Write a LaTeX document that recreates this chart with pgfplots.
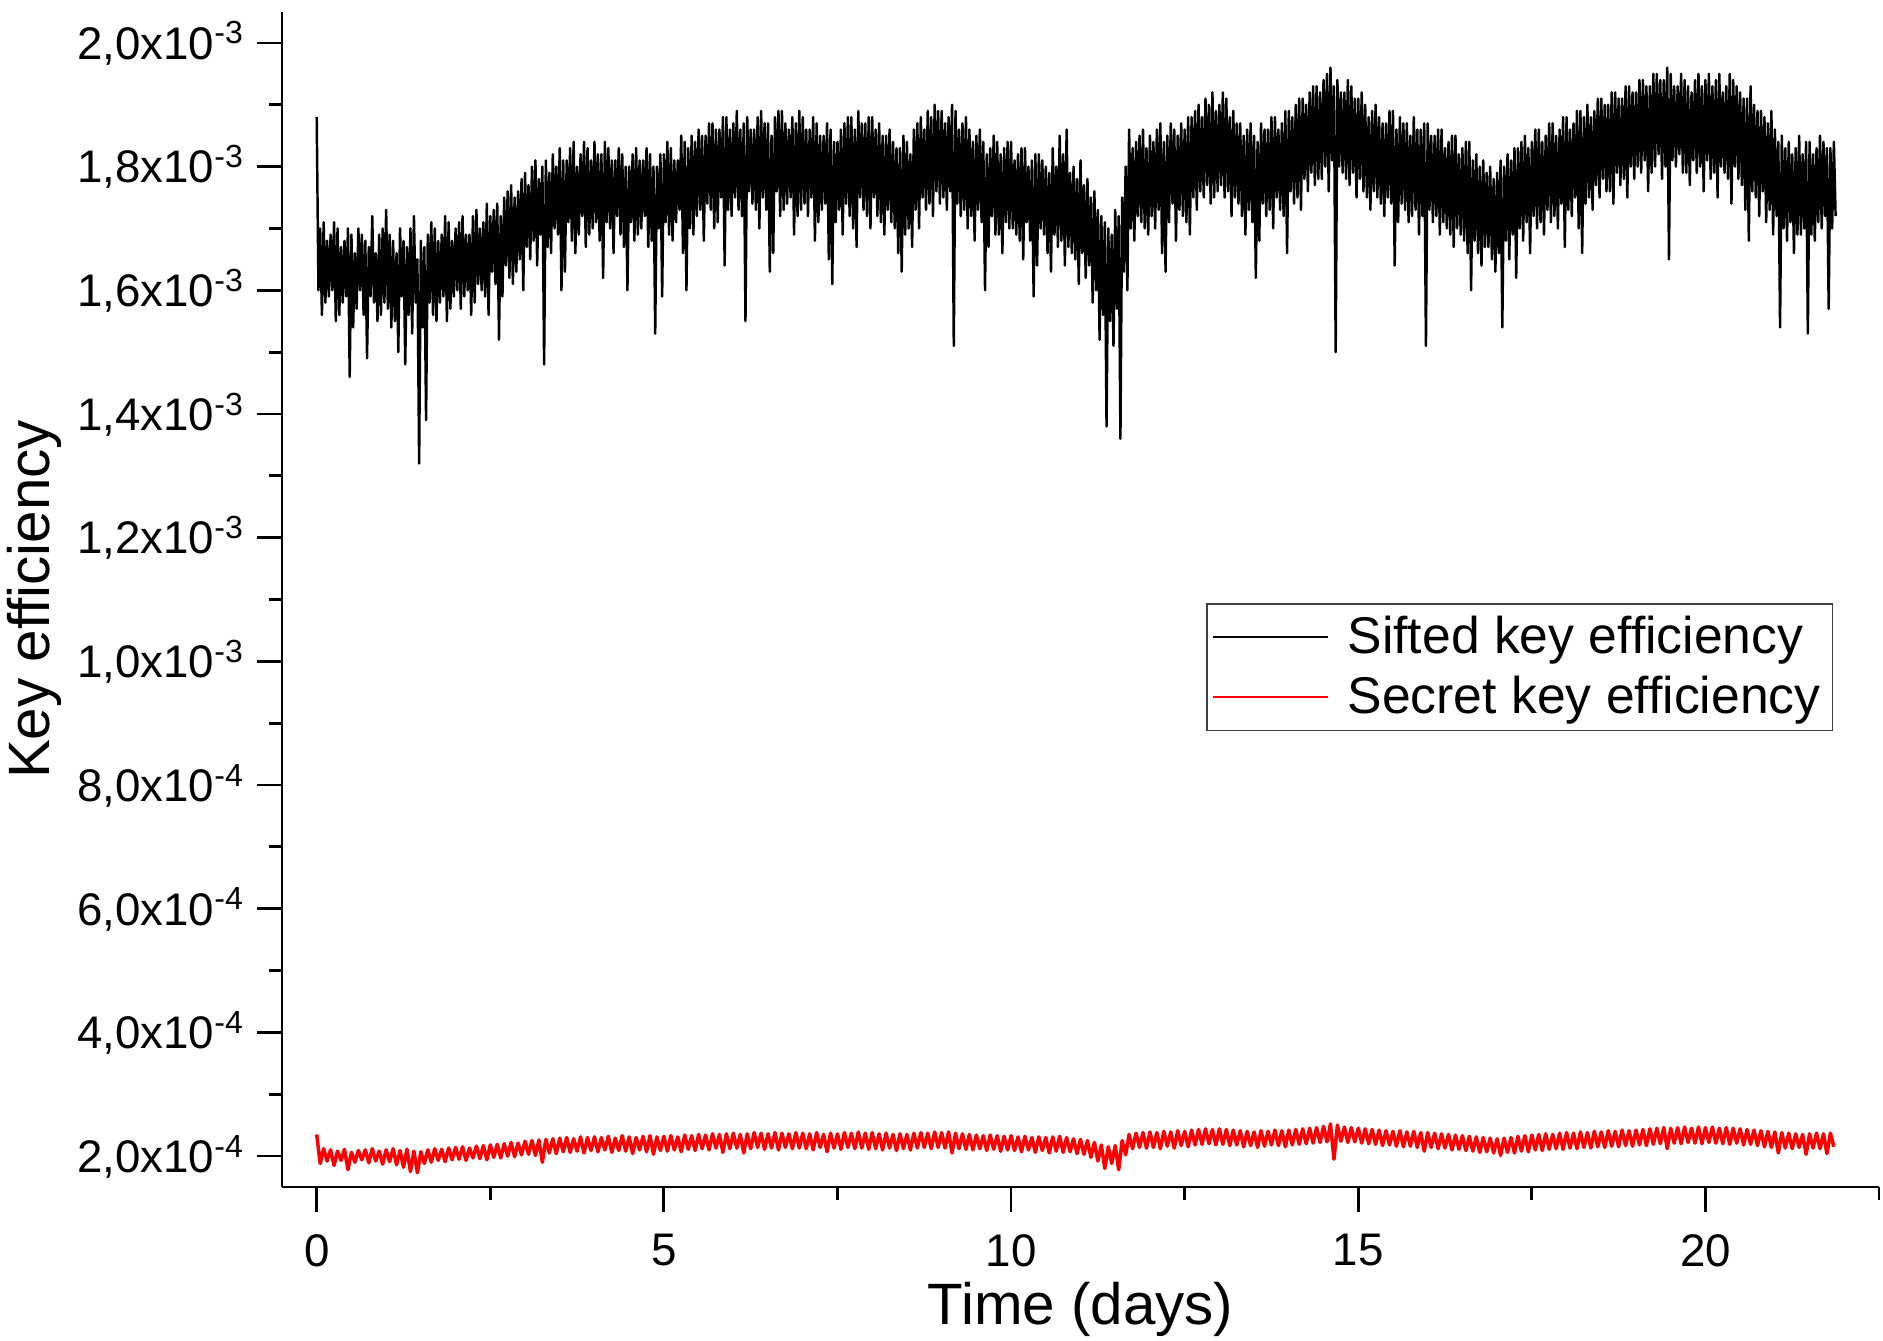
\documentclass[border=0pt]{standalone}
\usepackage{fontspec}
\setmainfont{Liberation Sans}
\usepackage{pgfplots}
\pgfplotsset{compat=1.18}

\newcommand{\sci}[2]{#1x10\textsuperscript{#2}}

\begin{document}
\begin{tikzpicture}
\useasboundingbox (-28.2mm,-15.3mm) rectangle (160.1mm,118.7mm);
\begin{axis}[
    at={(0,0)}, anchor=south west,
    width=159.7mm, height=117.5mm, scale only axis,
    xmin=-0.5, xmax=22.5, ymin=1.5, ymax=20.5,
    axis lines*=left,
    axis line style={line width=0.8pt},
    every tick/.style={line width=0.8pt, black},
    tick align=outside,
    major tick length=2.5mm, minor tick length=1.25mm,
    xtick={0,5,10,15,20}, xticklabels={0,5,10,15,20},
    minor xtick={2.5,7.5,12.5,17.5,22.5},
    ytick={2,4,...,20},
    yticklabels={\sci{2,0}{-4},\sci{4,0}{-4},\sci{6,0}{-4},\sci{8,0}{-4},\sci{1,0}{-3},
                 \sci{1,2}{-3},\sci{1,4}{-3},\sci{1,6}{-3},\sci{1,8}{-3},\sci{2,0}{-3}},
    minor ytick={3,5,...,19},
    ticklabel style={font=\fontsize{13}{15}\selectfont},
    xticklabel style={yshift=-1mm},
    yticklabel style={anchor=base east, yshift=-4.65pt},
    xlabel={Time (days)}, ylabel={Key efficiency},
    label style={font=\fontsize{16.6}{19}\selectfont},
    xlabel style={at={(axis description cs:0.5,-0.104)}, anchor=center},
    ylabel style={at={(axis description cs:-0.1553,0.5)}, anchor=center},
    legend style={at={(0.5786,0.497)}, anchor=north west, draw=black!75,
        line width=0.5pt, fill=white, font=\fontsize{14.7}{17.6}\selectfont,
        inner xsep=0.5mm, inner ysep=0.5mm, row sep=0.3mm, column sep=1.2mm,
        cells={anchor=west}},
    legend image code/.code={\draw[#1, line width=0.5pt] (0mm,0mm) -- (11.5mm,0mm);},
]
% sifted key efficiency, in units of 1e-4
\addplot[black, line width=0.7pt, line join=round] table[row sep=\\] {
t v\\
0.000 18.8\\ 0.025 16.0\\ 0.050 17.0\\ 0.075 15.6\\ 0.100 17.1\\ 0.125 15.8\\ 0.150 16.8\\ 0.175 15.9\\ 0.200 16.9\\ 0.225 16.0\\ 0.250 17.1\\ 0.275 15.5\\ 0.300 17.0\\ 0.325 15.6\\ 0.350 16.7\\ 0.375 15.8\\ 0.400 16.8\\ 0.425 15.9\\ 0.450 17.0\\ 0.475 14.6\\
0.500 16.9\\ 0.525 15.4\\ 0.550 16.6\\ 0.575 15.7\\ 0.600 17.0\\ 0.625 16.0\\ 0.650 16.9\\ 0.675 15.6\\ 0.700 16.8\\ 0.725 14.9\\ 0.750 16.7\\ 0.775 15.9\\ 0.800 17.2\\ 0.825 15.8\\ 0.850 16.6\\ 0.875 15.5\\ 0.900 16.9\\ 0.925 15.6\\ 0.950 17.0\\ 0.975 15.8\\
1.000 17.3\\ 1.025 15.7\\ 1.050 16.9\\ 1.075 15.4\\ 1.100 16.8\\ 1.125 15.5\\ 1.150 16.6\\ 1.175 15.0\\ 1.200 17.0\\ 1.225 15.9\\ 1.250 16.8\\ 1.275 14.8\\ 1.300 16.7\\ 1.325 15.6\\ 1.350 17.0\\ 1.375 15.3\\ 1.400 17.2\\ 1.425 15.8\\ 1.450 16.5\\ 1.475 13.2\\
1.500 16.8\\ 1.525 15.4\\ 1.550 16.7\\ 1.575 13.9\\ 1.600 16.9\\ 1.625 15.8\\ 1.650 17.1\\ 1.675 15.6\\ 1.700 17.0\\ 1.725 15.5\\ 1.750 16.8\\ 1.775 15.8\\ 1.800 16.9\\ 1.825 15.9\\ 1.850 17.2\\ 1.875 15.5\\ 1.900 17.1\\ 1.925 15.7\\ 1.950 16.8\\ 1.975 15.9\\
2.000 17.0\\ 2.025 16.0\\ 2.050 17.1\\ 2.075 15.7\\ 2.100 17.2\\ 2.125 15.9\\ 2.150 16.9\\ 2.175 16.0\\ 2.200 16.9\\ 2.225 15.6\\ 2.250 17.2\\ 2.275 15.8\\ 2.300 17.3\\ 2.325 16.1\\ 2.350 17.0\\ 2.375 16.0\\ 2.400 17.1\\ 2.425 15.9\\ 2.450 17.4\\ 2.475 15.6\\
2.500 17.2\\ 2.525 16.3\\ 2.550 17.3\\ 2.575 16.1\\ 2.600 17.4\\ 2.625 15.2\\ 2.650 17.2\\ 2.675 15.9\\ 2.700 17.5\\ 2.725 16.4\\ 2.750 17.6\\ 2.775 16.2\\ 2.800 17.7\\ 2.825 16.1\\ 2.850 17.5\\ 2.875 16.3\\ 2.900 17.6\\ 2.925 16.5\\ 2.950 17.8\\ 2.975 16.0\\
3.000 17.9\\ 3.025 16.7\\ 3.050 17.7\\ 3.075 16.5\\ 3.100 18.0\\ 3.125 16.8\\ 3.150 18.1\\ 3.175 16.4\\ 3.200 17.8\\ 3.225 16.9\\ 3.250 18.0\\ 3.275 14.8\\ 3.300 18.1\\ 3.325 16.7\\ 3.350 17.9\\ 3.375 16.6\\ 3.400 18.2\\ 3.425 17.0\\ 3.450 18.0\\ 3.475 16.9\\
3.500 18.3\\ 3.525 16.0\\ 3.550 18.1\\ 3.575 16.3\\ 3.600 18.1\\ 3.625 17.1\\ 3.650 18.3\\ 3.675 16.8\\ 3.700 18.4\\ 3.725 16.6\\ 3.750 18.0\\ 3.775 16.9\\ 3.800 18.2\\ 3.825 17.2\\ 3.850 18.4\\ 3.875 16.7\\ 3.900 18.3\\ 3.925 16.9\\ 3.950 18.1\\ 3.975 17.0\\
4.000 18.4\\ 4.025 17.1\\ 4.050 18.2\\ 4.075 16.8\\ 4.100 18.2\\ 4.125 16.2\\ 4.150 18.4\\ 4.175 17.1\\ 4.200 18.3\\ 4.225 17.0\\ 4.250 18.1\\ 4.275 16.6\\ 4.300 18.1\\ 4.325 17.2\\ 4.350 18.3\\ 4.375 16.9\\ 4.400 18.2\\ 4.425 16.7\\ 4.450 18.0\\ 4.475 16.0\\
4.500 18.0\\ 4.525 17.1\\ 4.550 18.2\\ 4.575 16.8\\ 4.600 18.3\\ 4.625 16.9\\ 4.650 18.1\\ 4.675 17.0\\ 4.700 18.1\\ 4.725 17.2\\ 4.750 18.3\\ 4.775 16.7\\ 4.800 18.2\\ 4.825 16.8\\ 4.850 18.0\\ 4.875 15.3\\ 4.900 18.0\\ 4.925 17.0\\ 4.950 18.2\\ 4.975 15.9\\
5.000 18.2\\ 5.025 17.1\\ 5.050 18.4\\ 5.075 16.9\\ 5.100 18.3\\ 5.125 16.8\\ 5.150 18.1\\ 5.175 17.1\\ 5.200 18.1\\ 5.225 17.3\\ 5.250 18.5\\ 5.275 16.6\\ 5.300 18.4\\ 5.325 16.0\\ 5.350 18.3\\ 5.375 17.0\\ 5.400 18.5\\ 5.425 16.9\\ 5.450 18.4\\ 5.475 17.2\\
5.500 18.6\\ 5.525 17.3\\ 5.550 18.5\\ 5.575 16.8\\ 5.600 18.5\\ 5.625 17.4\\ 5.650 18.7\\ 5.675 17.3\\ 5.700 18.7\\ 5.725 17.0\\ 5.750 18.6\\ 5.775 17.1\\ 5.800 18.6\\ 5.825 17.5\\ 5.850 18.8\\ 5.875 16.4\\ 5.900 18.8\\ 5.925 17.3\\ 5.950 18.6\\ 5.975 17.2\\
6.000 18.7\\ 6.025 17.5\\ 6.050 18.9\\ 6.075 17.3\\ 6.100 18.6\\ 6.125 17.2\\ 6.150 18.7\\ 6.175 15.5\\ 6.200 18.8\\ 6.225 17.6\\ 6.250 18.6\\ 6.275 17.4\\ 6.300 18.6\\ 6.325 17.3\\ 6.350 18.8\\ 6.375 17.0\\ 6.400 18.9\\ 6.425 17.5\\ 6.450 18.7\\ 6.475 17.3\\
6.500 18.7\\ 6.525 16.3\\ 6.550 18.5\\ 6.575 16.6\\ 6.600 18.8\\ 6.625 17.6\\ 6.650 18.9\\ 6.675 17.2\\ 6.700 18.9\\ 6.725 17.3\\ 6.750 18.7\\ 6.775 17.4\\ 6.800 18.6\\ 6.825 17.5\\ 6.850 18.8\\ 6.875 16.9\\ 6.900 18.7\\ 6.925 17.2\\ 6.950 18.9\\ 6.975 17.3\\
7.000 18.8\\ 7.025 17.4\\ 7.050 18.6\\ 7.075 17.2\\ 7.100 18.6\\ 7.125 17.5\\ 7.150 18.8\\ 7.175 16.8\\ 7.200 18.7\\ 7.225 17.1\\ 7.250 18.5\\ 7.275 17.3\\ 7.300 18.5\\ 7.325 17.4\\ 7.350 18.7\\ 7.375 16.5\\ 7.400 18.6\\ 7.425 16.1\\ 7.450 18.4\\ 7.475 17.1\\
7.500 18.4\\ 7.525 17.3\\ 7.550 18.6\\ 7.575 16.9\\ 7.600 18.7\\ 7.625 17.4\\ 7.650 18.8\\ 7.675 17.2\\ 7.700 18.8\\ 7.725 17.0\\ 7.750 18.6\\ 7.775 16.7\\ 7.800 18.9\\ 7.825 17.5\\ 7.850 18.7\\ 7.875 17.3\\ 7.900 18.7\\ 7.925 17.2\\ 7.950 18.8\\ 7.975 17.0\\
8.000 18.8\\ 8.025 17.5\\ 8.050 18.6\\ 8.075 17.2\\ 8.100 18.7\\ 8.125 17.1\\ 8.150 18.5\\ 8.175 16.9\\ 8.200 18.5\\ 8.225 17.3\\ 8.250 18.6\\ 8.275 17.1\\ 8.300 18.4\\ 8.325 17.0\\ 8.350 18.3\\ 8.375 16.6\\ 8.400 18.3\\ 8.425 16.3\\ 8.450 18.5\\ 8.475 16.9\\
8.500 18.4\\ 8.525 17.0\\ 8.550 18.2\\ 8.575 16.7\\ 8.600 18.6\\ 8.625 17.3\\ 8.650 18.7\\ 8.675 17.0\\ 8.700 18.8\\ 8.725 17.5\\ 8.750 18.6\\ 8.775 17.3\\ 8.800 18.9\\ 8.825 17.4\\ 8.850 18.8\\ 8.875 17.2\\ 8.900 19.0\\ 8.925 17.6\\ 8.950 18.9\\ 8.975 17.4\\
9.000 18.9\\ 9.025 17.5\\ 9.050 18.7\\ 9.075 17.3\\ 9.100 18.8\\ 9.125 17.6\\ 9.150 19.0\\ 9.175 15.1\\ 9.200 18.9\\ 9.225 17.4\\ 9.250 18.6\\ 9.275 17.2\\ 9.300 18.7\\ 9.325 17.3\\ 9.350 18.8\\ 9.375 17.0\\ 9.400 18.6\\ 9.425 17.2\\ 9.450 18.4\\ 9.475 16.8\\
9.500 18.5\\ 9.525 17.3\\ 9.550 18.6\\ 9.575 17.1\\ 9.600 18.4\\ 9.625 16.0\\ 9.650 18.2\\ 9.675 16.7\\ 9.700 18.3\\ 9.725 17.2\\ 9.750 18.5\\ 9.775 16.9\\ 9.800 18.4\\ 9.825 16.9\\ 9.850 18.2\\ 9.875 16.6\\ 9.900 18.3\\ 9.925 17.1\\ 9.950 18.4\\ 9.975 17.0\\
10.000 18.4\\ 10.025 17.0\\ 10.050 18.1\\ 10.075 16.9\\ 10.100 18.2\\ 10.125 16.8\\ 10.150 18.3\\ 10.175 16.5\\ 10.200 18.3\\ 10.225 17.1\\ 10.250 18.0\\ 10.275 16.8\\ 10.300 18.1\\ 10.325 15.9\\ 10.350 18.2\\ 10.375 16.4\\ 10.400 18.2\\ 10.425 17.0\\ 10.450 18.1\\ 10.475 16.9\\
10.500 18.0\\ 10.525 16.6\\ 10.550 17.9\\ 10.575 16.3\\ 10.600 18.3\\ 10.625 16.9\\ 10.650 18.0\\ 10.675 16.7\\ 10.700 18.5\\ 10.725 16.8\\ 10.750 18.2\\ 10.775 16.4\\ 10.800 18.6\\ 10.825 16.7\\ 10.850 17.9\\ 10.875 16.6\\ 10.900 18.0\\ 10.925 16.5\\ 10.950 17.8\\ 10.975 16.1\\
11.000 18.1\\ 11.025 16.6\\ 11.050 17.7\\ 11.075 16.2\\ 11.100 17.8\\ 11.125 16.4\\ 11.150 17.5\\ 11.175 15.8\\ 11.200 17.6\\ 11.225 16.0\\ 11.250 17.3\\ 11.275 15.2\\ 11.300 17.2\\ 11.325 15.6\\ 11.350 17.1\\ 11.375 13.8\\ 11.400 17.0\\ 11.425 15.5\\ 11.450 16.9\\ 11.475 15.1\\
11.500 17.3\\ 11.525 15.7\\ 11.550 17.2\\ 11.575 13.6\\ 11.600 17.5\\ 11.625 16.3\\ 11.650 18.0\\ 11.675 16.0\\ 11.700 18.6\\ 11.725 17.0\\ 11.750 18.3\\ 11.775 16.8\\ 11.800 18.4\\ 11.825 17.2\\ 11.850 18.5\\ 11.875 17.1\\ 11.900 18.6\\ 11.925 17.0\\ 11.950 18.3\\ 11.975 16.9\\
12.000 18.5\\ 12.025 17.2\\ 12.050 18.4\\ 12.075 17.0\\ 12.100 18.6\\ 12.125 17.3\\ 12.150 18.7\\ 12.175 16.6\\ 12.200 18.4\\ 12.225 16.3\\ 12.250 18.5\\ 12.275 17.1\\ 12.300 18.7\\ 12.325 17.4\\ 12.350 18.6\\ 12.375 16.8\\ 12.400 18.5\\ 12.425 17.3\\ 12.450 18.7\\ 12.475 17.2\\
12.500 18.6\\ 12.525 17.1\\ 12.550 18.8\\ 12.575 16.9\\ 12.600 18.8\\ 12.625 17.5\\ 12.650 18.9\\ 12.675 17.3\\ 12.700 19.0\\ 12.725 17.6\\ 12.750 18.8\\ 12.775 17.5\\ 12.800 19.1\\ 12.825 17.7\\ 12.850 19.0\\ 12.875 17.4\\ 12.900 19.2\\ 12.925 17.5\\ 12.950 18.9\\ 12.975 17.6\\
13.000 19.0\\ 13.025 17.7\\ 13.050 19.2\\ 13.075 17.5\\ 13.100 19.1\\ 13.125 17.6\\ 13.150 18.8\\ 13.175 17.2\\ 13.200 18.9\\ 13.225 17.5\\ 13.250 18.7\\ 13.275 17.4\\ 13.300 18.7\\ 13.325 17.2\\ 13.350 18.5\\ 13.375 16.9\\ 13.400 18.6\\ 13.425 17.3\\ 13.450 18.7\\ 13.475 17.1\\
13.500 18.5\\ 13.525 16.2\\ 13.550 18.4\\ 13.575 16.8\\ 13.600 18.7\\ 13.625 17.4\\ 13.650 18.6\\ 13.675 17.2\\ 13.700 18.6\\ 13.725 17.3\\ 13.750 18.8\\ 13.775 17.0\\ 13.800 18.8\\ 13.825 17.5\\ 13.850 18.6\\ 13.875 17.3\\ 13.900 18.7\\ 13.925 17.2\\ 13.950 18.9\\ 13.975 16.6\\
14.000 18.9\\ 14.025 17.6\\ 14.050 18.8\\ 14.075 17.4\\ 14.100 19.0\\ 14.125 17.5\\ 14.150 19.1\\ 14.175 17.3\\ 14.200 19.1\\ 14.225 17.8\\ 14.250 19.0\\ 14.275 17.6\\ 14.300 19.2\\ 14.325 17.9\\ 14.350 19.3\\ 14.375 17.7\\ 14.400 19.3\\ 14.425 17.8\\ 14.450 19.2\\ 14.475 17.8\\
14.500 19.4\\ 14.525 18.0\\ 14.550 19.5\\ 14.575 17.6\\ 14.600 19.6\\ 14.625 18.1\\ 14.650 19.3\\ 14.675 15.0\\ 14.700 19.4\\ 14.725 18.0\\ 14.750 19.2\\ 14.775 17.9\\ 14.800 19.2\\ 14.825 17.8\\ 14.850 19.4\\ 14.875 17.7\\ 14.900 19.3\\ 14.925 17.9\\ 14.950 19.1\\ 14.975 17.5\\
15.000 19.1\\ 15.025 17.8\\ 15.050 19.2\\ 15.075 17.6\\ 15.100 19.0\\ 15.125 17.5\\ 15.150 18.8\\ 15.175 17.3\\ 15.200 18.9\\ 15.225 17.6\\ 15.250 19.0\\ 15.275 17.5\\ 15.300 18.8\\ 15.325 17.4\\ 15.350 18.7\\ 15.375 17.2\\ 15.400 18.7\\ 15.425 17.5\\ 15.450 18.9\\ 15.475 17.4\\
15.500 18.9\\ 15.525 16.4\\ 15.550 18.6\\ 15.575 17.1\\ 15.600 18.8\\ 15.625 17.4\\ 15.650 18.7\\ 15.675 17.3\\ 15.700 18.7\\ 15.725 17.1\\ 15.750 18.5\\ 15.775 17.2\\ 15.800 18.8\\ 15.825 17.3\\ 15.850 18.6\\ 15.875 16.9\\ 15.900 18.6\\ 15.925 17.2\\ 15.950 18.7\\ 15.975 15.1\\
16.000 18.7\\ 16.025 17.3\\ 16.050 18.5\\ 16.075 17.1\\ 16.100 18.5\\ 16.125 17.2\\ 16.150 18.6\\ 16.175 16.9\\ 16.200 18.6\\ 16.225 17.1\\ 16.250 18.3\\ 16.275 17.0\\ 16.300 18.4\\ 16.325 16.9\\ 16.350 18.5\\ 16.375 16.7\\ 16.400 18.5\\ 16.425 17.0\\ 16.450 18.2\\ 16.475 16.9\\
16.500 18.3\\ 16.525 16.8\\ 16.550 18.4\\ 16.575 16.6\\ 16.600 18.4\\ 16.625 16.0\\ 16.650 18.1\\ 16.675 16.8\\ 16.700 18.2\\ 16.725 16.6\\ 16.750 18.0\\ 16.775 16.4\\ 16.800 18.1\\ 16.825 16.7\\ 16.850 17.9\\ 16.875 16.7\\ 16.900 18.0\\ 16.925 16.5\\ 16.950 17.8\\ 16.975 16.3\\
17.000 17.9\\ 17.025 16.6\\ 17.050 18.1\\ 17.075 15.4\\ 17.100 18.0\\ 17.125 16.8\\ 17.150 18.2\\ 17.175 16.5\\ 17.200 18.1\\ 17.225 16.9\\ 17.250 18.3\\ 17.275 16.2\\ 17.300 18.3\\ 17.325 17.0\\ 17.350 18.4\\ 17.375 16.8\\ 17.400 18.5\\ 17.425 17.1\\ 17.450 18.3\\ 17.475 16.6\\
17.500 18.4\\ 17.525 17.2\\ 17.550 18.6\\ 17.575 17.0\\ 17.600 18.6\\ 17.625 17.1\\ 17.650 18.4\\ 17.675 16.9\\ 17.700 18.5\\ 17.725 17.3\\ 17.750 18.7\\ 17.775 17.1\\ 17.800 18.7\\ 17.825 17.2\\ 17.850 18.5\\ 17.875 17.0\\ 17.900 18.6\\ 17.925 17.4\\ 17.950 18.8\\ 17.975 16.7\\
18.000 18.8\\ 18.025 17.3\\ 18.050 18.6\\ 18.075 17.2\\ 18.100 18.7\\ 18.125 17.5\\ 18.150 18.9\\ 18.175 17.0\\ 18.200 18.9\\ 18.225 16.6\\ 18.250 18.8\\ 18.275 17.4\\ 18.300 19.0\\ 18.325 17.5\\ 18.350 18.8\\ 18.375 17.3\\ 18.400 18.9\\ 18.425 17.7\\ 18.450 19.1\\ 18.475 17.5\\
18.500 19.1\\ 18.525 17.8\\ 18.550 19.0\\ 18.575 17.6\\ 18.600 19.0\\ 18.625 17.6\\ 18.650 19.2\\ 18.675 17.4\\ 18.700 19.2\\ 18.725 17.9\\ 18.750 19.1\\ 18.775 17.7\\ 18.800 19.1\\ 18.825 17.8\\ 18.850 19.3\\ 18.875 17.5\\ 18.900 19.3\\ 18.925 18.0\\ 18.950 19.2\\ 18.975 17.8\\
19.000 19.2\\ 19.025 18.0\\ 19.050 19.4\\ 19.075 17.9\\ 19.100 19.4\\ 19.125 18.1\\ 19.150 19.3\\ 19.175 17.6\\ 19.200 19.3\\ 19.225 17.9\\ 19.250 19.5\\ 19.275 18.0\\ 19.300 19.5\\ 19.325 18.2\\ 19.350 19.4\\ 19.375 17.8\\ 19.400 19.4\\ 19.425 18.0\\ 19.450 19.6\\ 19.475 16.5\\
19.500 19.5\\ 19.525 18.1\\ 19.550 19.3\\ 19.575 18.0\\ 19.600 19.3\\ 19.625 18.2\\ 19.650 19.5\\ 19.675 17.9\\ 19.700 19.4\\ 19.725 17.9\\ 19.750 19.3\\ 19.775 17.7\\ 19.800 19.2\\ 19.825 18.1\\ 19.850 19.4\\ 19.875 17.9\\ 19.900 19.5\\ 19.925 18.0\\ 19.950 19.3\\ 19.975 17.6\\
20.000 19.4\\ 20.025 18.1\\ 20.050 19.5\\ 20.075 17.8\\ 20.100 19.3\\ 20.125 17.9\\ 20.150 19.4\\ 20.175 17.5\\ 20.200 19.5\\ 20.225 18.0\\ 20.250 19.2\\ 20.275 17.9\\ 20.300 19.3\\ 20.325 17.8\\ 20.350 19.5\\ 20.375 17.4\\ 20.400 19.4\\ 20.425 18.0\\ 20.450 19.3\\ 20.475 17.8\\
20.500 19.2\\ 20.525 17.7\\ 20.550 19.1\\ 20.575 17.3\\ 20.600 19.1\\ 20.625 16.8\\ 20.650 19.3\\ 20.675 17.6\\ 20.700 19.0\\ 20.725 17.5\\ 20.750 18.9\\ 20.775 17.2\\ 20.800 18.9\\ 20.825 17.6\\ 20.850 18.8\\ 20.875 17.1\\ 20.900 18.7\\ 20.925 17.3\\ 20.950 18.9\\ 20.975 16.9\\
21.000 18.6\\ 21.025 17.2\\ 21.050 18.4\\ 21.075 15.4\\ 21.100 18.5\\ 21.125 17.0\\ 21.150 18.3\\ 21.175 16.8\\ 21.200 18.4\\ 21.225 17.1\\ 21.250 18.2\\ 21.275 16.6\\ 21.300 18.3\\ 21.325 16.9\\ 21.350 18.5\\ 21.375 16.9\\ 21.400 18.2\\ 21.425 17.0\\ 21.450 18.4\\ 21.475 15.3\\
21.500 18.4\\ 21.525 16.9\\ 21.550 18.2\\ 21.575 16.8\\ 21.600 18.3\\ 21.625 17.1\\ 21.650 18.5\\ 21.675 17.0\\ 21.700 18.4\\ 21.725 17.2\\ 21.750 18.3\\ 21.775 15.7\\ 21.800 18.3\\ 21.825 17.0\\ 21.850 18.4\\ 21.875 17.2\\
};
\addlegendentry{Sifted key efficiency}
% secret key efficiency, in units of 1e-4
\addplot[red, line width=1.0pt, line join=round] table[row sep=\\] {
t v\\
0.00 2.35\\ 0.05 1.88\\ 0.10 2.12\\ 0.15 1.92\\ 0.20 2.10\\ 0.25 1.85\\ 0.30 2.08\\ 0.35 1.93\\ 0.40 2.11\\ 0.45 1.78\\ 0.50 2.06\\ 0.55 1.90\\ 0.60 2.09\\ 0.65 1.94\\ 0.70 2.10\\ 0.75 1.89\\ 0.80 2.12\\ 0.85 1.92\\ 0.90 2.08\\ 0.95 1.87\\
1.00 2.10\\ 1.05 1.91\\ 1.10 2.12\\ 1.15 1.86\\ 1.20 2.09\\ 1.25 1.82\\ 1.30 2.11\\ 1.35 1.75\\ 1.40 2.08\\ 1.45 1.73\\ 1.50 2.07\\ 1.55 1.88\\ 1.60 2.10\\ 1.65 1.90\\ 1.70 2.12\\ 1.75 1.93\\ 1.80 2.11\\ 1.85 1.91\\ 1.90 2.13\\ 1.95 1.94\\
2.00 2.14\\ 2.05 1.95\\ 2.10 2.15\\ 2.15 1.93\\ 2.20 2.13\\ 2.25 1.97\\ 2.30 2.16\\ 2.35 1.96\\ 2.40 2.17\\ 2.45 1.94\\ 2.50 2.18\\ 2.55 1.98\\ 2.60 2.19\\ 2.65 1.97\\ 2.70 2.20\\ 2.75 2.00\\ 2.80 2.22\\ 2.85 1.99\\ 2.90 2.21\\ 2.95 2.02\\
3.00 2.24\\ 3.05 2.03\\ 3.10 2.25\\ 3.15 2.01\\ 3.20 2.26\\ 3.25 1.90\\ 3.30 2.27\\ 3.35 2.05\\ 3.40 2.28\\ 3.45 2.04\\ 3.50 2.29\\ 3.55 2.07\\ 3.60 2.30\\ 3.65 2.06\\ 3.70 2.28\\ 3.75 2.08\\ 3.80 2.31\\ 3.85 2.05\\ 3.90 2.30\\ 3.95 2.09\\
4.00 2.31\\ 4.05 2.07\\ 4.10 2.30\\ 4.15 2.10\\ 4.20 2.32\\ 4.25 2.06\\ 4.30 2.29\\ 4.35 2.09\\ 4.40 2.33\\ 4.45 2.08\\ 4.50 2.31\\ 4.55 2.04\\ 4.60 2.30\\ 4.65 2.10\\ 4.70 2.32\\ 4.75 2.07\\ 4.80 2.33\\ 4.85 2.03\\ 4.90 2.31\\ 4.95 2.09\\
5.00 2.32\\ 5.05 2.08\\ 5.10 2.33\\ 5.15 2.10\\ 5.20 2.31\\ 5.25 2.07\\ 5.30 2.34\\ 5.35 2.11\\ 5.40 2.33\\ 5.45 2.09\\ 5.50 2.35\\ 5.55 2.12\\ 5.60 2.34\\ 5.65 2.10\\ 5.70 2.36\\ 5.75 2.13\\ 5.80 2.35\\ 5.85 2.06\\ 5.90 2.36\\ 5.95 2.12\\
6.00 2.37\\ 6.05 2.13\\ 6.10 2.35\\ 6.15 2.05\\ 6.20 2.36\\ 6.25 2.12\\ 6.30 2.38\\ 6.35 2.14\\ 6.40 2.37\\ 6.45 2.11\\ 6.50 2.36\\ 6.55 2.13\\ 6.60 2.38\\ 6.65 2.10\\ 6.70 2.37\\ 6.75 2.14\\ 6.80 2.36\\ 6.85 2.12\\ 6.90 2.38\\ 6.95 2.13\\
7.00 2.37\\ 7.05 2.12\\ 7.10 2.36\\ 7.15 2.10\\ 7.20 2.38\\ 7.25 2.14\\ 7.30 2.35\\ 7.35 2.07\\ 7.40 2.37\\ 7.45 2.13\\ 7.50 2.36\\ 7.55 2.11\\ 7.60 2.38\\ 7.65 2.14\\ 7.70 2.37\\ 7.75 2.12\\ 7.80 2.39\\ 7.85 2.13\\ 7.90 2.37\\ 7.95 2.11\\
8.00 2.38\\ 8.05 2.12\\ 8.10 2.36\\ 8.15 2.10\\ 8.20 2.37\\ 8.25 2.13\\ 8.30 2.35\\ 8.35 2.09\\ 8.40 2.36\\ 8.45 2.12\\ 8.50 2.35\\ 8.55 2.10\\ 8.60 2.37\\ 8.65 2.13\\ 8.70 2.38\\ 8.75 2.14\\ 8.80 2.37\\ 8.85 2.12\\ 8.90 2.39\\ 8.95 2.14\\
9.00 2.38\\ 9.05 2.13\\ 9.10 2.39\\ 9.15 2.05\\ 9.20 2.37\\ 9.25 2.12\\ 9.30 2.36\\ 9.35 2.11\\ 9.40 2.35\\ 9.45 2.10\\ 9.50 2.34\\ 9.55 2.12\\ 9.60 2.33\\ 9.65 2.09\\ 9.70 2.34\\ 9.75 2.11\\ 9.80 2.33\\ 9.85 2.08\\ 9.90 2.32\\ 9.95 2.10\\
10.00 2.33\\ 10.05 2.09\\ 10.10 2.31\\ 10.15 2.07\\ 10.20 2.32\\ 10.25 2.10\\ 10.30 2.30\\ 10.35 2.06\\ 10.40 2.31\\ 10.45 2.09\\ 10.50 2.30\\ 10.55 2.05\\ 10.60 2.31\\ 10.65 2.08\\ 10.70 2.32\\ 10.75 2.06\\ 10.80 2.30\\ 10.85 2.07\\ 10.90 2.28\\ 10.95 2.04\\
11.00 2.27\\ 11.05 2.03\\ 11.10 2.25\\ 11.15 1.98\\ 11.20 2.22\\ 11.25 1.92\\ 11.30 2.18\\ 11.35 1.80\\ 11.40 2.15\\ 11.45 1.88\\ 11.50 2.17\\ 11.55 1.78\\ 11.60 2.25\\ 11.65 2.02\\ 11.70 2.35\\ 11.75 2.12\\ 11.80 2.37\\ 11.85 2.14\\ 11.90 2.38\\ 11.95 2.13\\
12.00 2.39\\ 12.05 2.14\\ 12.10 2.38\\ 12.15 2.12\\ 12.20 2.40\\ 12.25 2.16\\ 12.30 2.39\\ 12.35 2.13\\ 12.40 2.41\\ 12.45 2.17\\ 12.50 2.40\\ 12.55 2.15\\ 12.60 2.42\\ 12.65 2.18\\ 12.70 2.43\\ 12.75 2.19\\ 12.80 2.44\\ 12.85 2.20\\ 12.90 2.43\\ 12.95 2.18\\
13.00 2.44\\ 13.05 2.19\\ 13.10 2.43\\ 13.15 2.17\\ 13.20 2.42\\ 13.25 2.18\\ 13.30 2.41\\ 13.35 2.15\\ 13.40 2.40\\ 13.45 2.17\\ 13.50 2.39\\ 13.55 2.14\\ 13.60 2.41\\ 13.65 2.16\\ 13.70 2.40\\ 13.75 2.18\\ 13.80 2.42\\ 13.85 2.17\\ 13.90 2.41\\ 13.95 2.15\\
14.00 2.42\\ 14.05 2.18\\ 14.10 2.43\\ 14.15 2.19\\ 14.20 2.44\\ 14.25 2.20\\ 14.30 2.45\\ 14.35 2.21\\ 14.40 2.46\\ 14.45 2.22\\ 14.50 2.48\\ 14.55 2.23\\ 14.60 2.52\\ 14.65 1.95\\ 14.70 2.50\\ 14.75 2.24\\ 14.80 2.47\\ 14.85 2.22\\ 14.90 2.46\\ 14.95 2.23\\
15.00 2.45\\ 15.05 2.21\\ 15.10 2.44\\ 15.15 2.20\\ 15.20 2.43\\ 15.25 2.19\\ 15.30 2.42\\ 15.35 2.17\\ 15.40 2.41\\ 15.45 2.18\\ 15.50 2.40\\ 15.55 2.16\\ 15.60 2.41\\ 15.65 2.15\\ 15.70 2.39\\ 15.75 2.16\\ 15.80 2.40\\ 15.85 2.14\\ 15.90 2.38\\ 15.95 2.08\\
16.00 2.38\\ 16.05 2.14\\ 16.10 2.37\\ 16.15 2.12\\ 16.20 2.36\\ 16.25 2.13\\ 16.30 2.35\\ 16.35 2.10\\ 16.40 2.34\\ 16.45 2.11\\ 16.50 2.33\\ 16.55 2.09\\ 16.60 2.32\\ 16.65 2.08\\ 16.70 2.31\\ 16.75 2.06\\ 16.80 2.30\\ 16.85 2.07\\ 16.90 2.29\\ 16.95 2.05\\
17.00 2.28\\ 17.05 2.01\\ 17.10 2.29\\ 17.15 2.06\\ 17.20 2.30\\ 17.25 2.05\\ 17.30 2.32\\ 17.35 2.08\\ 17.40 2.33\\ 17.45 2.07\\ 17.50 2.34\\ 17.55 2.10\\ 17.60 2.35\\ 17.65 2.09\\ 17.70 2.36\\ 17.75 2.11\\ 17.80 2.35\\ 17.85 2.12\\ 17.90 2.37\\ 17.95 2.11\\
18.00 2.38\\ 18.05 2.13\\ 18.10 2.37\\ 18.15 2.12\\ 18.20 2.39\\ 18.25 2.14\\ 18.30 2.38\\ 18.35 2.13\\ 18.40 2.40\\ 18.45 2.15\\ 18.50 2.39\\ 18.55 2.14\\ 18.60 2.41\\ 18.65 2.16\\ 18.70 2.40\\ 18.75 2.15\\ 18.80 2.42\\ 18.85 2.17\\ 18.90 2.41\\ 18.95 2.16\\
19.00 2.42\\ 19.05 2.18\\ 19.10 2.43\\ 19.15 2.17\\ 19.20 2.44\\ 19.25 2.19\\ 19.30 2.45\\ 19.35 2.20\\ 19.40 2.46\\ 19.45 2.12\\ 19.50 2.45\\ 19.55 2.21\\ 19.60 2.46\\ 19.65 2.20\\ 19.70 2.47\\ 19.75 2.22\\ 19.80 2.45\\ 19.85 2.21\\ 19.90 2.47\\ 19.95 2.20\\
20.00 2.46\\ 20.05 2.22\\ 20.10 2.47\\ 20.15 2.21\\ 20.20 2.45\\ 20.25 2.20\\ 20.30 2.46\\ 20.35 2.19\\ 20.40 2.45\\ 20.45 2.21\\ 20.50 2.44\\ 20.55 2.18\\ 20.60 2.43\\ 20.65 2.19\\ 20.70 2.42\\ 20.75 2.17\\ 20.80 2.41\\ 20.85 2.15\\ 20.90 2.40\\ 20.95 2.14\\
21.00 2.39\\ 21.05 2.05\\ 21.10 2.38\\ 21.15 2.13\\ 21.20 2.37\\ 21.25 2.12\\ 21.30 2.36\\ 21.35 2.14\\ 21.40 2.35\\ 21.45 2.03\\ 21.50 2.36\\ 21.55 2.13\\ 21.60 2.37\\ 21.65 2.12\\ 21.70 2.36\\ 21.75 2.04\\ 21.80 2.37\\ 21.85 2.15\\
};
\addlegendentry{Secret key efficiency}
\end{axis}
\end{tikzpicture}
\end{document}
